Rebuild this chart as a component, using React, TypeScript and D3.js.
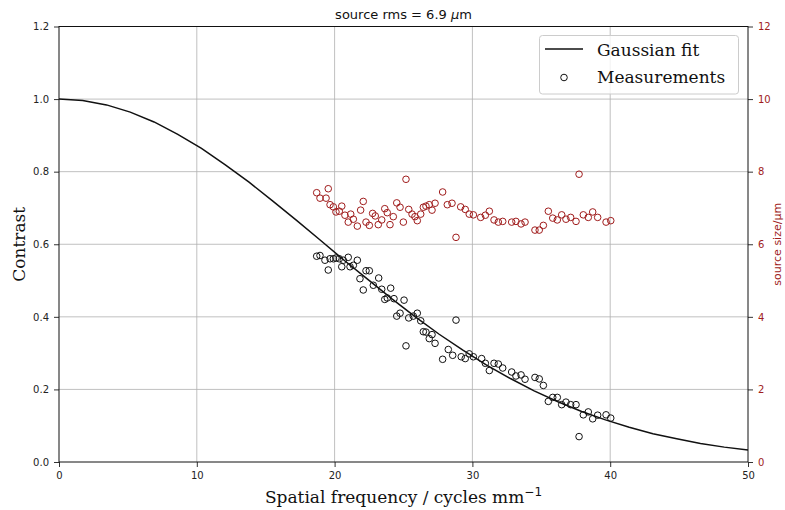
import React, { useEffect, useRef } from 'react'
import * as d3 from 'd3'

// gaussian fit curve
const fitFreq = [0, 1.72, 3.45, 5.17, 6.9, 8.62, 10.34, 12.07, 13.79, 15.52, 17.24, 18.97, 20.69, 22.41, 24.14, 25.86, 27.59, 29.31, 31.03, 32.76, 34.48, 36.21, 37.93, 39.66, 41.38, 43.1, 44.83, 46.55, 48.28, 50]
const fitContrast = [1.0, 0.996, 0.984, 0.964, 0.937, 0.903, 0.864, 0.819, 0.771, 0.719, 0.666, 0.611, 0.556, 0.503, 0.45, 0.4, 0.352, 0.308, 0.267, 0.23, 0.196, 0.166, 0.139, 0.116, 0.096, 0.078, 0.064, 0.051, 0.041, 0.033]

// measured contrast
const contrastFreq = [18.7, 18.94, 19.3, 19.54, 19.67, 19.91, 20.1, 20.34, 20.52, 20.63, 20.99, 21.12, 21.36, 21.65, 21.84, 22.08, 22.28, 22.52, 22.81, 23.2, 23.42, 23.64, 23.82, 24.07, 24.31, 24.51, 24.75, 25.04, 25.18, 25.38, 25.71, 26.0, 26.25, 26.44, 26.63, 26.87, 27.07, 27.29, 27.84, 28.25, 28.57, 28.81, 29.19, 29.48, 29.77, 30.07, 30.67, 30.94, 31.23, 31.57, 31.88, 32.2, 32.85, 33.16, 33.53, 33.82, 34.54, 34.85, 35.15, 35.51, 35.83, 36.16, 36.48, 36.79, 37.13, 37.52, 37.74, 38.05, 38.41, 38.73, 39.09, 39.7, 40.04]
const contrastValues = [0.567, 0.569, 0.556, 0.529, 0.56, 0.56, 0.562, 0.56, 0.538, 0.556, 0.564, 0.538, 0.542, 0.556, 0.505, 0.474, 0.527, 0.527, 0.487, 0.507, 0.476, 0.448, 0.452, 0.479, 0.45, 0.402, 0.41, 0.446, 0.32, 0.397, 0.402, 0.41, 0.389, 0.359, 0.358, 0.34, 0.351, 0.327, 0.283, 0.31, 0.294, 0.391, 0.29, 0.285, 0.298, 0.29, 0.285, 0.272, 0.252, 0.272, 0.27, 0.259, 0.248, 0.237, 0.24, 0.228, 0.233, 0.229, 0.211, 0.167, 0.178, 0.178, 0.158, 0.165, 0.158, 0.158, 0.07, 0.13, 0.138, 0.119, 0.129, 0.13, 0.121]

// source size (right axis)
const sizeFreq = [18.7, 18.94, 19.38, 19.54, 19.67, 19.91, 20.1, 20.34, 20.52, 20.75, 20.99, 21.17, 21.36, 21.65, 21.89, 22.08, 22.28, 22.52, 22.76, 22.95, 23.17, 23.42, 23.64, 23.82, 24.02, 24.26, 24.51, 24.75, 24.99, 25.18, 25.38, 25.62, 25.83, 26.0, 26.25, 26.44, 26.63, 26.87, 27.07, 27.29, 27.84, 28.18, 28.52, 28.81, 29.15, 29.48, 29.77, 30.07, 30.6, 30.94, 31.23, 31.57, 31.88, 32.2, 32.85, 33.16, 33.53, 33.82, 34.54, 34.85, 35.15, 35.51, 35.83, 36.16, 36.48, 36.79, 37.13, 37.52, 37.74, 38.05, 38.41, 38.73, 39.09, 39.7, 40.04]
const sizeValues = [7.42, 7.27, 7.27, 7.53, 7.09, 7.03, 6.89, 6.91, 7.05, 6.8, 6.61, 6.83, 6.69, 6.5, 6.94, 7.18, 6.61, 6.52, 6.85, 6.78, 6.54, 6.67, 6.98, 6.87, 6.54, 6.76, 7.14, 7.02, 6.61, 7.79, 6.96, 6.83, 6.76, 6.65, 6.83, 7.02, 7.05, 7.09, 6.94, 7.13, 7.44, 7.09, 7.13, 6.19, 7.03, 6.96, 6.83, 6.81, 6.74, 6.8, 6.91, 6.67, 6.61, 6.63, 6.61, 6.63, 6.56, 6.61, 6.39, 6.39, 6.52, 6.91, 6.72, 6.67, 6.81, 6.69, 6.74, 6.63, 7.93, 6.81, 6.74, 6.89, 6.74, 6.61, 6.65]

const xTicks = [0, 10, 20, 30, 40, 50]
const contrastTicks = [0, 0.2, 0.4, 0.6, 0.8, 1.0, 1.2]
const sizeTicks = [0, 2, 4, 6, 8, 10, 12]

const RED = '#a01c1c'
const SANS = '"DejaVu Sans", sans-serif'
const SERIF = '"DejaVu Serif", serif'

const App = () => {
    const ref = useRef<SVGSVGElement>(null)

    const WIDTH = 785
    const HEIGHT = 510
    const left = 59, right = 748, top = 26.5, bottom = 462

    useEffect(() => {
        const svg = d3.select(ref.current)
        svg.selectAll('*').remove()

        const x = d3.scaleLinear().domain([0, 50]).range([left, right])
        const y = d3.scaleLinear().domain([0, 1.2]).range([bottom, top])
        const y2 = d3.scaleLinear().domain([0, 12]).range([bottom, top])

        // grid
        const grid = svg.append('g').attr('stroke', '#b0b0b0').attr('stroke-width', 0.8)
        grid.selectAll('line.vx')
            .data(xTicks.slice(1, -1))
            .enter()
            .append('line')
            .attr('x1', d => x(d)).attr('x2', d => x(d))
            .attr('y1', top).attr('y2', bottom)
        grid.selectAll('line.hy')
            .data(contrastTicks.slice(1, -1))
            .enter()
            .append('line')
            .attr('x1', left).attr('x2', right)
            .attr('y1', d => y(d)).attr('y2', d => y(d))

        // fit line
        const fit = fitFreq.map((f, i) => [f, fitContrast[i]] as [number, number])
        svg.append('path')
            .datum(fit)
            .attr('fill', 'none')
            .attr('stroke', '#111')
            .attr('stroke-width', 1.5)
            .attr('d', d3.line<[number, number]>().x(d => x(d[0])).y(d => y(d[1])))

        // measurements
        svg.append('g')
            .selectAll('circle')
            .data(contrastFreq.map((f, i) => [f, contrastValues[i]]))
            .enter()
            .append('circle')
            .attr('cx', d => x(d[0]))
            .attr('cy', d => y(d[1]))
            .attr('r', 3.3)
            .attr('fill', 'none')
            .attr('stroke', '#111')
            .attr('stroke-width', 1)

        svg.append('g')
            .selectAll('circle')
            .data(sizeFreq.map((f, i) => [f, sizeValues[i]]))
            .enter()
            .append('circle')
            .attr('cx', d => x(d[0]))
            .attr('cy', d => y2(d[1]))
            .attr('r', 3.3)
            .attr('fill', 'none')
            .attr('stroke', RED)
            .attr('stroke-width', 1)

        // axes
        const styleAxis = (g: any, color: string) => {
            g.select('.domain').remove()
            g.selectAll('line').attr('stroke', '#333')
            g.selectAll('text').attr('fill', color).style('font-family', SANS).style('font-size', '10px')
        }

        svg.append('g')
            .attr('transform', `translate(0, ${bottom})`)
            .call(d3.axisBottom(x).tickValues(xTicks).tickSize(5).tickPadding(5).tickFormat(d => String(d)))
            .call(g => styleAxis(g, '#222'))

        svg.append('g')
            .attr('transform', `translate(${left}, 0)`)
            .call(d3.axisLeft(y).tickValues(contrastTicks).tickSize(5).tickPadding(5).tickFormat(d3.format('.1f')))
            .call(g => styleAxis(g, '#222'))

        svg.append('g')
            .attr('transform', `translate(${right}, 0)`)
            .call(d3.axisRight(y2).tickValues(sizeTicks).tickSize(5).tickPadding(5).tickFormat(d => String(d)))
            .call(g => styleAxis(g, RED))

        // frame
        svg.append('rect')
            .attr('x', left).attr('y', top)
            .attr('width', right - left).attr('height', bottom - top)
            .attr('fill', 'none')
            .attr('stroke', '#111')
            .attr('stroke-width', 1)

        // title
        const title = svg.append('text')
            .attr('x', (left + right) / 2)
            .attr('y', 19)
            .attr('text-anchor', 'middle')
            .style('font-family', SANS)
            .style('font-size', '13px')
            .attr('fill', '#111')
        title.append('tspan').text('source rms = 6.9 ')
        title.append('tspan').style('font-style', 'italic').text('μ')
        title.append('tspan').text('m')

        // x label
        const xl = svg.append('text')
            .attr('x', (left + right) / 2)
            .attr('y', 503)
            .attr('text-anchor', 'middle')
            .style('font-family', SERIF)
            .style('font-size', '17px')
            .attr('fill', '#111')
        xl.append('tspan').text('Spatial frequency / cycles mm')
        xl.append('tspan').attr('dy', -7).style('font-size', '12px').style('font-family', SANS).text('−1')

        // y labels
        svg.append('text')
            .attr('transform', `translate(25, ${(top + bottom) / 2}) rotate(-90)`)
            .attr('text-anchor', 'middle')
            .style('font-family', SERIF)
            .style('font-size', '17px')
            .attr('fill', '#111')
            .text('Contrast')

        svg.append('text')
            .attr('transform', `translate(781, ${(top + bottom) / 2}) rotate(-90)`)
            .attr('text-anchor', 'middle')
            .style('font-family', SANS)
            .style('font-size', '11px')
            .attr('fill', RED)
            .text('source size/μm')

        // legend
        const lg = svg.append('g')
        lg.append('rect')
            .attr('x', 539.5).attr('y', 35.5)
            .attr('width', 199).attr('height', 58.5)
            .attr('rx', 3)
            .attr('fill', 'white').attr('fill-opacity', 0.8)
            .attr('stroke', '#cccccc')
        lg.append('line')
            .attr('x1', 545).attr('x2', 583)
            .attr('y1', 49).attr('y2', 49)
            .attr('stroke', '#111').attr('stroke-width', 1.5)
        lg.append('circle')
            .attr('cx', 564).attr('cy', 77.5).attr('r', 3.3)
            .attr('fill', 'none').attr('stroke', '#111')
        lg.selectAll('text')
            .data(['Gaussian fit', 'Measurements'])
            .enter()
            .append('text')
            .attr('x', 597)
            .attr('y', (d, i) => 55.5 + i * 27.5)
            .style('font-family', SERIF)
            .style('font-size', '17px')
            .attr('fill', '#111')
            .text(d => d)
    }, [])

    return (
        <svg ref={ref} width={WIDTH} height={HEIGHT} style={{ position: 'absolute', left: 0, top: 0, background: 'white' }}></svg>
    )
}

export default App
